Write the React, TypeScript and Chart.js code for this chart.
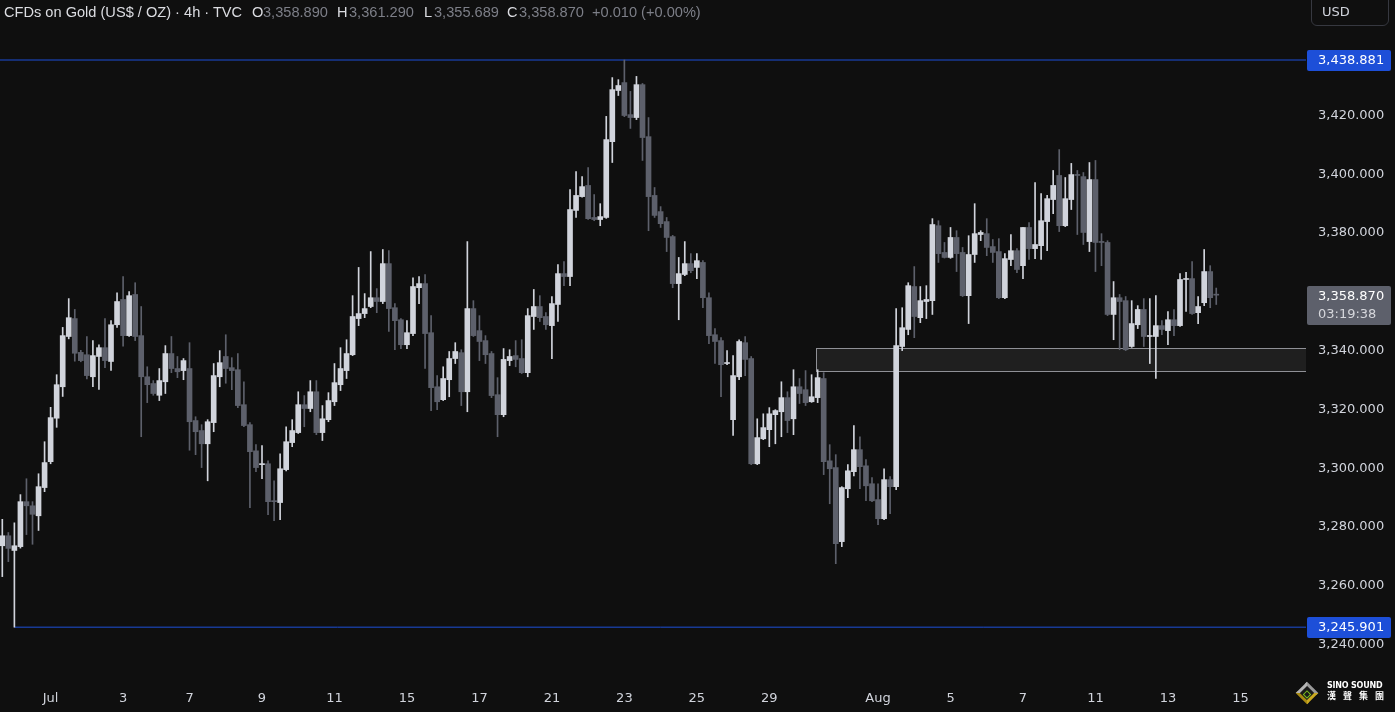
import React, { useEffect, useRef } from 'react';
import { Chart, registerables } from 'chart.js';

Chart.register(...registerables);

// ---- DATA (4h candles, Jul 1 – Aug 14) ----
const opens = [
  3273.6, 3277.0, 3272.0, 3273.3, 3288.6, 3287.2, 3283.8, 3293.4, 3302.2, 3317.0,
  3327.7, 3344.8, 3350.9, 3339.4, 3338.6, 3331.1, 3338.0, 3341.0, 3336.3, 3348.8,
  3357.4, 3345.1, 3359.1, 3345.1, 3331.1, 3328.8, 3324.8, 3329.4, 3339.0, 3333.9,
  3333.2, 3333.9, 3316.2, 3312.8, 3308.3, 3315.5, 3331.1, 3338.0, 3334.2, 3333.5,
  3321.6, 3314.8, 3305.9, 3301.2, 3301.5, 3288.9, 3288.3, 3299.5, 3308.7, 3312.1,
  3321.6, 3320.3, 3326.0, 3312.1, 3316.5, 3322.6, 3328.4, 3333.2, 3338.6, 3350.9,
  3352.6, 3355.0, 3358.0, 3356.7, 3369.6, 3354.6, 3350.5, 3342.0, 3345.8, 3361.4,
  3362.8, 3346.1, 3327.7, 3323.3, 3330.1, 3337.3, 3339.3, 3326.0, 3354.3, 3346.8,
  3343.4, 3339.0, 3325.0, 3318.2, 3336.6, 3338.3, 3337.3, 3332.5, 3351.6, 3355.0,
  3351.6, 3348.5, 3355.7, 3366.2, 3365.2, 3387.7, 3392.4, 3396.2, 3385.3, 3384.6,
  3385.3, 3411.1, 3428.5, 3431.2, 3420.3, 3419.3, 3430.5, 3412.8, 3392.8, 3387.3,
  3383.9, 3378.8, 3362.8, 3365.9, 3369.6, 3368.3, 3370.0, 3358.0, 3345.4, 3343.4,
  3335.6, 3316.5, 3331.1, 3342.7, 3337.3, 3301.5, 3310.0, 3313.1, 3318.2, 3319.2,
  3324.0, 3316.8, 3327.7, 3326.7, 3322.6, 3324.0, 3330.5, 3302.5, 3300.2, 3275.0,
  3293.0, 3298.8, 3306.3, 3300.8, 3294.7, 3289.3, 3282.8, 3296.1, 3293.7, 3341.4,
  3347.2, 3361.8, 3351.2, 3356.7, 3357.0, 3382.5, 3373.4, 3371.7, 3378.5, 3373.4,
  3358.7, 3372.7, 3379.5, 3379.8, 3375.4, 3373.7, 3358.0, 3371.0, 3374.0, 3368.9,
  3381.9, 3374.7, 3375.7, 3383.9, 3391.4, 3399.6, 3382.5, 3391.4, 3399.9, 3399.2,
  3377.1, 3398.2, 3377.1, 3376.8, 3352.3, 3358.0, 3357.0, 3341.4, 3348.8, 3354.0,
  3344.8, 3344.8, 3348.5, 3346.8, 3350.5, 3348.5, 3364.2, 3364.5, 3352.9, 3356.3,
  3366.9, 3358.89,
];
const highs = [
  3282.6, 3278.1, 3281.4, 3291.0, 3296.4, 3288.6, 3298.1, 3309.0, 3320.7, 3331.8,
  3347.9, 3357.7, 3354.0, 3340.1, 3344.8, 3343.4, 3342.0, 3350.9, 3350.2, 3359.7,
  3365.2, 3360.1, 3363.1, 3355.0, 3334.5, 3329.8, 3333.9, 3341.7, 3344.8, 3338.0,
  3337.3, 3342.7, 3317.5, 3314.8, 3316.5, 3335.6, 3340.0, 3345.4, 3337.6, 3339.0,
  3329.4, 3315.5, 3308.0, 3307.7, 3302.5, 3295.7, 3304.9, 3314.1, 3316.5, 3326.0,
  3324.7, 3329.8, 3329.8, 3321.3, 3325.7, 3335.6, 3341.0, 3343.7, 3358.7, 3368.3,
  3359.4, 3373.7, 3361.1, 3374.4, 3374.0, 3356.0, 3350.9, 3350.2, 3364.8, 3365.2,
  3365.9, 3351.9, 3331.5, 3334.5, 3339.7, 3342.7, 3340.3, 3377.1, 3357.0, 3351.9,
  3345.1, 3339.7, 3330.8, 3340.7, 3340.3, 3343.4, 3343.7, 3354.3, 3360.8, 3358.7,
  3352.9, 3358.4, 3369.3, 3370.3, 3394.8, 3400.9, 3399.2, 3402.3, 3393.1, 3390.0,
  3419.7, 3432.9, 3432.2, 3438.881, 3428.2, 3433.3, 3430.9, 3419.3, 3395.5, 3389.0,
  3385.3, 3379.2, 3371.7, 3377.1, 3373.0, 3373.0, 3370.6, 3359.7, 3347.5, 3344.4,
  3340.0, 3338.3, 3343.7, 3344.8, 3338.0, 3316.8, 3318.5, 3320.6, 3319.9, 3329.4,
  3326.0, 3333.5, 3330.5, 3333.2, 3331.8, 3333.5, 3332.5, 3308.0, 3304.6, 3293.7,
  3301.2, 3314.5, 3310.7, 3302.9, 3296.8, 3294.7, 3299.8, 3297.1, 3354.3, 3354.6,
  3363.1, 3368.6, 3361.8, 3362.1, 3384.9, 3384.2, 3376.8, 3381.9, 3380.8, 3375.1,
  3379.1, 3390.0, 3380.8, 3384.9, 3377.8, 3378.1, 3373.0, 3379.5, 3374.7, 3381.9,
  3383.6, 3397.2, 3393.4, 3392.8, 3401.3, 3408.4, 3398.9, 3403.7, 3401.3, 3400.6,
  3404.0, 3404.7, 3379.8, 3377.4, 3363.5, 3359.1, 3358.4, 3357.0, 3355.3, 3357.7,
  3357.7, 3358.7, 3350.2, 3353.3, 3354.0, 3366.2, 3366.6, 3370.3, 3358.4, 3374.4,
  3368.9, 3361.29,
];
const lows = [
  3263.1, 3268.2, 3245.901, 3272.8, 3277.4, 3274.1, 3278.8, 3292.0, 3301.5, 3313.9,
  3324.4, 3344.0, 3336.4, 3336.2, 3330.4, 3327.7, 3326.8, 3334.2, 3333.3, 3347.9,
  3341.5, 3344.8, 3343.4, 3310.7, 3322.3, 3324.8, 3323.0, 3325.4, 3332.5, 3330.8,
  3330.1, 3306.1, 3304.6, 3300.2, 3295.7, 3312.4, 3327.7, 3328.9, 3326.7, 3320.6,
  3314.1, 3286.6, 3298.8, 3296.4, 3284.2, 3282.1, 3282.5, 3299.1, 3307.3, 3311.8,
  3314.1, 3319.2, 3311.4, 3309.4, 3315.8, 3321.3, 3326.4, 3330.5, 3338.3, 3348.5,
  3351.2, 3354.6, 3352.9, 3356.0, 3346.5, 3340.3, 3340.7, 3340.7, 3345.1, 3356.0,
  3333.9, 3319.6, 3319.9, 3323.0, 3324.3, 3335.6, 3321.3, 3319.2, 3344.8, 3336.6,
  3335.6, 3324.0, 3310.7, 3317.5, 3334.9, 3334.5, 3332.2, 3331.1, 3347.2, 3349.9,
  3347.2, 3337.3, 3349.9, 3362.1, 3362.1, 3385.3, 3392.2, 3384.6, 3384.2, 3382.5,
  3385.0, 3404.0, 3426.8, 3419.6, 3415.6, 3418.6, 3404.7, 3380.8, 3385.3, 3381.9,
  3373.7, 3361.4, 3350.5, 3365.5, 3366.5, 3364.5, 3354.6, 3342.4, 3335.6, 3324.3,
  3335.2, 3311.1, 3330.1, 3331.5, 3301.2, 3301.2, 3309.7, 3307.3, 3308.3, 3310.7,
  3312.1, 3311.4, 3322.0, 3321.3, 3322.4, 3322.3, 3297.8, 3287.9, 3267.5, 3273.3,
  3290.0, 3297.4, 3293.0, 3288.9, 3288.6, 3280.8, 3282.5, 3284.5, 3292.7, 3340.0,
  3345.4, 3344.4, 3349.5, 3350.9, 3352.3, 3370.0, 3371.5, 3371.4, 3366.9, 3358.4,
  3349.2, 3370.0, 3377.4, 3372.3, 3370.0, 3357.7, 3357.7, 3368.9, 3366.5, 3364.5,
  3371.0, 3371.3, 3371.0, 3374.0, 3386.6, 3380.5, 3382.2, 3388.0, 3379.5, 3376.1,
  3373.7, 3366.9, 3368.9, 3351.9, 3343.7, 3340.3, 3340.0, 3341.1, 3347.5, 3341.4,
  3335.6, 3330.5, 3345.4, 3342.0, 3345.1, 3348.2, 3353.3, 3352.3, 3349.2, 3355.3,
  3354.6, 3355.689,
];
const closes = [
  3277.0, 3272.7, 3273.6, 3288.6, 3287.2, 3284.3, 3293.7, 3301.9, 3317.2, 3328.4,
  3345.1, 3351.2, 3339.1, 3336.6, 3331.5, 3338.3, 3341.0, 3336.6, 3348.8, 3356.7,
  3345.1, 3358.7, 3344.8, 3331.1, 3328.4, 3325.4, 3329.8, 3339.0, 3333.9, 3332.8,
  3336.6, 3315.8, 3312.4, 3308.3, 3315.8, 3331.5, 3335.9, 3333.9, 3333.2, 3321.3,
  3314.5, 3305.6, 3300.2, 3301.5, 3288.6, 3288.6, 3299.8, 3309.0, 3312.8, 3321.6,
  3320.3, 3326.0, 3312.1, 3316.8, 3323.0, 3329.1, 3333.9, 3339.0, 3351.6, 3352.6,
  3354.3, 3358.0, 3356.7, 3369.6, 3354.3, 3350.2, 3342.0, 3346.1, 3361.8, 3362.8,
  3345.8, 3327.4, 3322.6, 3330.5, 3337.3, 3339.7, 3326.0, 3354.3, 3345.1, 3343.1,
  3338.6, 3324.7, 3318.2, 3337.0, 3338.0, 3337.0, 3332.5, 3351.9, 3355.0, 3351.2,
  3348.8, 3356.0, 3366.2, 3365.2, 3388.0, 3392.8, 3395.8, 3384.9, 3384.6, 3385.6,
  3411.8, 3428.8, 3430.2, 3420.0, 3419.3, 3430.5, 3412.5, 3392.4, 3386.0, 3383.2,
  3378.5, 3362.8, 3366.2, 3369.6, 3367.2, 3370.6, 3358.0, 3345.1, 3343.1, 3335.2,
  3335.9, 3331.5, 3343.1, 3337.0, 3301.5, 3310.4, 3313.8, 3318.5, 3319.6, 3324.0,
  3316.2, 3327.7, 3325.4, 3322.3, 3324.3, 3330.8, 3302.2, 3299.8, 3274.3, 3293.4,
  3299.1, 3306.3, 3300.5, 3294.0, 3288.9, 3282.8, 3296.1, 3293.7, 3341.7, 3347.8,
  3362.1, 3351.6, 3357.0, 3357.4, 3382.9, 3373.0, 3371.7, 3378.5, 3373.0, 3358.7,
  3372.7, 3379.8, 3380.2, 3375.1, 3373.4, 3358.0, 3371.3, 3374.0, 3367.6, 3381.9,
  3374.7, 3376.1, 3384.2, 3391.7, 3396.2, 3382.5, 3391.7, 3399.9, 3399.6, 3380.2,
  3398.2, 3376.8, 3376.8, 3352.3, 3358.0, 3356.7, 3340.3, 3349.2, 3354.0, 3344.8,
  3345.1, 3348.5, 3347.2, 3350.5, 3348.5, 3364.2, 3364.5, 3352.6, 3355.0, 3366.9,
  3358.0, 3358.87,
];

const dateTickIndex = [8, 20, 31, 43, 55, 67, 79, 91, 103, 115, 127, 145, 157, 169, 181, 193, 205];
const dateTickLabels = ['Jul', '3', '7', '9', '11', '15', '17', '21', '23', '25', '29', 'Aug', '5', '7', '11', '13', '15'];
const priceTicks = [3420, 3400, 3380, 3340, 3320, 3300, 3280, 3260, 3240];

const rangeHigh = 3438.881;
const rangeLow = 3245.901;
const rangeHighFrom = -2;
const rangeLowFrom = 2;
const zoneTop = 3341.0;
const zoneBottom = 3333.2;
const zoneFrom = 134.7;
const lastPrice = 3358.87;
const countdown = '03:19:38';

const X_MIN = -0.381;
const X_MAX = 215.86;
const Y_MIN = 3226.9;
const Y_MAX = 3459.3;

// ---- STYLE ----
const BG = '#0f0f0f';
const UP = '#d1d4dc';
const DOWN = '#5d606b';
const BLUE = '#1d4fd8';
const AXIS_TEXT = '#d1d4dc';
const FONT = "'DejaVu Sans', sans-serif";

const fmt = (v: number) =>
  v.toLocaleString('en-US', { minimumFractionDigits: 3, maximumFractionDigits: 3 });

export default function App() {
  const ref = useRef<HTMLCanvasElement | null>(null);

  useEffect(() => {
    document.body.style.margin = '0';
    document.body.style.background = BG;
    const canvas = ref.current;
    if (!canvas) return;

    const idx = opens.map((_, i) => i);
    const isUp = idx.map((i) => closes[i] >= opens[i]);
    const colors = idx.map((i) => (isUp[i] ? UP : DOWN));

    const zonePlugin = {
      id: 'zone',
      beforeDatasetsDraw(chart: any) {
        const { ctx, chartArea, scales } = chart;
        const x1 = Math.round(scales.x.getPixelForValue(zoneFrom)) + 0.5;
        const x2 = chartArea.right + 2;
        const y1 = Math.round(scales.y.getPixelForValue(zoneTop)) + 0.5;
        const y2 = Math.round(scales.y.getPixelForValue(zoneBottom)) + 0.5;
        ctx.save();
        ctx.beginPath();
        ctx.rect(chartArea.left, chartArea.top, chartArea.right - chartArea.left, chartArea.bottom - chartArea.top);
        ctx.clip();
        ctx.fillStyle = '#1f1f1f';
        ctx.fillRect(x1, y1, x2 - x1, y2 - y1);
        ctx.strokeStyle = '#8f9096';
        ctx.lineWidth = 1;
        ctx.strokeRect(x1, y1, x2 - x1, y2 - y1);
        ctx.restore();
      },
    };

    const badgePlugin = {
      id: 'badges',
      afterDraw(chart: any) {
        const { ctx, chartArea, scales } = chart;
        const left = chartArea.right + 1;
        const w = 84;
        ctx.save();
        ctx.textBaseline = 'middle';
        ctx.textAlign = 'left';
        ctx.font = `13px ${FONT}`;
        [rangeHigh, rangeLow].forEach((v) => {
          const y = Math.round(scales.y.getPixelForValue(v));
          ctx.fillStyle = BLUE;
          ctx.beginPath();
          ctx.roundRect(left, y - 10, w, 21, 2);
          ctx.fill();
          ctx.fillStyle = '#ffffff';
          ctx.fillText(fmt(v), left + 11, y + 1);
        });
        const yp = Math.round(scales.y.getPixelForValue(lastPrice));
        ctx.fillStyle = DOWN;
        ctx.beginPath();
        ctx.roundRect(left, yp - 9, w, 39, 2);
        ctx.fill();
        ctx.fillStyle = '#ffffff';
        ctx.fillText(fmt(lastPrice), left + 11, yp + 2);
        ctx.fillStyle = '#d6d7dc';
        ctx.fillText(countdown, left + 11, yp + 20);
        ctx.restore();
      },
    };

    const chart = new Chart(canvas, {
      type: 'bar',
      data: {
        datasets: [
          {
            type: 'line',
            data: [
              { x: rangeHighFrom, y: rangeHigh },
              { x: X_MAX + 2, y: rangeHigh },
            ],
            borderColor: BLUE,
            borderWidth: 1,
            pointRadius: 0,
            order: 5,
          } as any,
          {
            type: 'line',
            data: [
              { x: rangeLowFrom, y: rangeLow },
              { x: X_MAX + 2, y: rangeLow },
            ],
            borderColor: BLUE,
            borderWidth: 1,
            pointRadius: 0,
            order: 5,
          } as any,
          {
            type: 'bar',
            data: idx.map((i) => ({ x: i, y: [lows[i], highs[i]] })),
            backgroundColor: colors,
            barThickness: 1,
            grouped: false,
            borderWidth: 0,
            order: 2,
          } as any,
          {
            type: 'bar',
            data: idx.map((i) => ({
              x: i,
              y: [Math.min(opens[i], closes[i]), Math.max(opens[i], closes[i])],
            })),
            backgroundColor: colors,
            barThickness: 5,
            minBarLength: 1,
            grouped: false,
            borderWidth: 0,
            order: 1,
          } as any,
        ],
      },
      options: {
        animation: false,
        responsive: false,
        maintainAspectRatio: false,
        events: [],
        layout: { padding: 0 },
        plugins: { legend: { display: false }, tooltip: { enabled: false } },
        scales: {
          x: {
            type: 'linear',
            position: 'bottom',
            offset: false,
            min: X_MIN,
            max: X_MAX,
            grid: { display: false, drawTicks: false, offset: false },
            border: { display: false },
            afterBuildTicks: (s: any) => {
              s.ticks = dateTickIndex.map((v) => ({ value: v }));
            },
            afterFit: (s: any) => {
              s.height = 29;
              s.paddingLeft = 0;
              s.paddingRight = 0;
            },
            ticks: {
              autoSkip: false,
              maxRotation: 0,
              padding: 8,
              color: AXIS_TEXT,
              font: { family: FONT, size: 13 },
              callback: (v: any) => {
                const k = dateTickIndex.indexOf(Number(v));
                return k >= 0 ? dateTickLabels[k] : '';
              },
            },
          },
          y: {
            type: 'linear',
            position: 'right',
            min: Y_MIN,
            max: Y_MAX,
            grid: { display: false, drawTicks: false },
            border: { display: false },
            afterBuildTicks: (s: any) => {
              s.ticks = priceTicks.map((v) => ({ value: v }));
            },
            afterFit: (s: any) => {
              s.width = 89;
              s.paddingTop = 0;
              s.paddingBottom = 0;
            },
            ticks: {
              padding: 12,
              crossAlign: 'near',
              color: AXIS_TEXT,
              font: { family: FONT, size: 13 },
              callback: (v: any) => fmt(Number(v)),
            },
          },
        },
      } as any,
      plugins: [zonePlugin, badgePlugin],
    });

    return () => chart.destroy();
  }, []);

  const hdrFont = "'Liberation Sans', Arial, sans-serif";
  const hdr: React.CSSProperties = {
    position: 'absolute',
    top: 3,
    fontFamily: hdrFont,
    fontSize: 14.6,
    lineHeight: '18px',
    whiteSpace: 'nowrap',
  };
  const white = '#dcdde2';
  const gray = '#7d7f88';

  return (
    <div style={{ position: 'relative', width: 1395, height: 712, background: BG, overflow: 'hidden' }}>
      <canvas ref={ref} width={1395} height={712} style={{ display: 'block', width: 1395, height: 712 }} />
      <span style={{ ...hdr, left: 4, color: white }}>CFDs on Gold (US$ / OZ) · 4h · TVC</span>
      <span style={{ ...hdr, left: 252, color: white }}>O</span>
      <span style={{ ...hdr, left: 263, color: gray }}>3,358.890</span>
      <span style={{ ...hdr, left: 337, color: white }}>H</span>
      <span style={{ ...hdr, left: 349, color: gray }}>3,361.290</span>
      <span style={{ ...hdr, left: 424, color: white }}>L</span>
      <span style={{ ...hdr, left: 434, color: gray }}>3,355.689</span>
      <span style={{ ...hdr, left: 507, color: white }}>C</span>
      <span style={{ ...hdr, left: 519, color: gray }}>3,358.870</span>
      <span style={{ ...hdr, left: 592, color: gray }}>+0.010 (+0.00%)</span>

      <div
        style={{
          position: 'absolute',
          left: 1311,
          top: -8,
          width: 78,
          height: 34,
          border: '1px solid #363840',
          borderRadius: 6,
          boxSizing: 'border-box',
        }}
      />
      <span
        style={{
          position: 'absolute',
          left: 1322,
          top: 4,
          fontFamily: FONT,
          fontSize: 13,
          lineHeight: '16px',
          color: AXIS_TEXT,
        }}
      >
        USD
      </span>

      {/* logo */}
      <div
        style={{
          position: 'absolute',
          left: 1299,
          top: 685,
          width: 16,
          height: 16,
          transform: 'rotate(45deg)',
          borderTop: '3px solid #9a9a9a',
          borderLeft: '3px solid #b5b5b5',
          borderRight: '3px solid #c9a820',
          borderBottom: '3px solid #a88a12',
          boxSizing: 'border-box',
          background: '#1a1a1a',
        }}
      >
        <div style={{ position: 'absolute', left: 3, top: 3, width: 4, height: 4, border: '1px solid #7cc11f' }} />
      </div>
      <span
        style={{
          position: 'absolute',
          left: 1327,
          top: 681,
          fontFamily: "'DejaVu Sans', sans-serif",
          fontWeight: 700,
          fontSize: 8,
          lineHeight: '9px',
          color: '#ffffff',
          letterSpacing: -0.2,
        }}
      >
        SINO SOUND
      </span>
      <span
        style={{
          position: 'absolute',
          left: 1327,
          top: 691,
          fontFamily: "'Noto Sans CJK TC', sans-serif",
          fontWeight: 700,
          fontSize: 9,
          lineHeight: '10px',
          color: '#ffffff',
          letterSpacing: 7,
        }}
      >
        漢聲集團
      </span>
    </div>
  );
}
